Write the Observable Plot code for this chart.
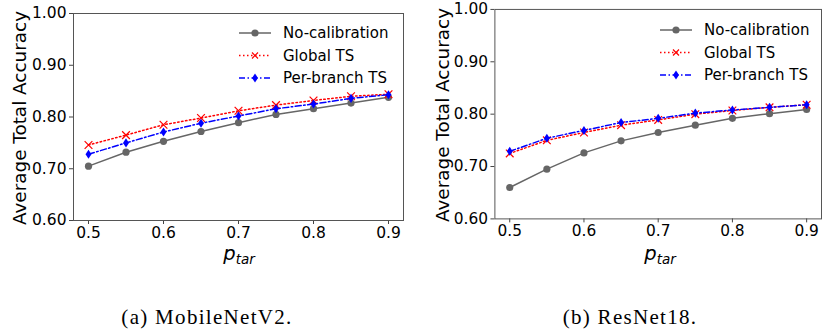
<!DOCTYPE html>
<html>
<head>
<meta charset="utf-8">
<script src="https://cdn.jsdelivr.net/npm/d3@7"></script>
<script src="https://cdn.jsdelivr.net/npm/@observablehq/plot@0.6"></script>
<style>
  body { margin:0; width:822px; height:329px; overflow:hidden; position:relative; background:#fff; font-family:"DejaVu Sans"; }
  .panel { position:absolute; top:0; }
  .panel svg [aria-label$="tick"] path, .panel svg [aria-label$="tick"] { stroke:#444; }
  .ylab { position:absolute; font:18.4px "DejaVu Sans"; color:#000; white-space:nowrap; transform:translate(-50%,-50%) rotate(-90deg); }
  .cap { position:absolute; font:21px "Liberation Serif"; letter-spacing:1.3px; color:#000; white-space:nowrap; transform:translateX(-50%); }
  .legend, .overlay { position:absolute; }
</style>
</head>
<body>
<div id="a" class="panel" style="left:0px"></div>
<div id="b" class="panel" style="left:411px"></div>
<script>
const pTar = [0.5, 0.55, 0.6, 0.65, 0.7, 0.75, 0.8, 0.85, 0.9];
const xTicks = [0.5, 0.6, 0.7, 0.8, 0.9];
const yTicks = [0.6, 0.7, 0.8, 0.9, 1.0];
const seriesNames = ["No-calibration", "Global TS", "Per-branch TS"];
const mobileNoCal     = [0.705, 0.732, 0.753, 0.772, 0.789, 0.805, 0.816, 0.827, 0.838];
const mobileGlobal    = [0.746, 0.765, 0.785, 0.798, 0.812, 0.823, 0.832, 0.840, 0.844];
const mobilePerBranch = [0.728, 0.750, 0.771, 0.788, 0.802, 0.816, 0.825, 0.836, 0.843];
const resNoCal        = [0.660, 0.695, 0.726, 0.749, 0.765, 0.779, 0.792, 0.801, 0.809];
const resGlobal       = [0.725, 0.750, 0.765, 0.779, 0.789, 0.800, 0.807, 0.813, 0.818];
const resPerBranch    = [0.729, 0.754, 0.769, 0.784, 0.792, 0.802, 0.808, 0.813, 0.818];
const captions = ["(a)  MobileNetV2.", "(b)  ResNet18."];
const yLabel = "Average Total Accuracy";
const xLabelMain = "p", xLabelSub = "tar";

const styles = [
  {stroke:"#666666", dash:null, symbol:"circle"},
  {stroke:"#ff0000", dash:"1.5,2.5", symbol:"times"},
  {stroke:"#0000ff", dash:"6,2.5,1.5,2.5", symbol:"thin"}
];
const thinDiamond = {
  draw(ctx, size) {
    const h = Math.sqrt(size / Math.PI);
    ctx.moveTo(0, -h * 1.3); ctx.lineTo(h * 0.85, 0); ctx.lineTo(0, h * 1.3); ctx.lineTo(-h * 0.85, 0); ctx.closePath();
  }
};

function seriesMarks(vals, st) {
  const data = pTar.map((x, i) => ({x, y: vals[i]}));
  const marks = [Plot.line(data, {x:"x", y:"y", stroke:st.stroke, strokeWidth:1.5, strokeDasharray:st.dash || undefined})];
  if (st.symbol === "circle") marks.push(Plot.dot(data, {x:"x", y:"y", r:3.6, fill:st.stroke, stroke:"none"}));
  else if (st.symbol === "times") marks.push(Plot.dot(data, {x:"x", y:"y", r:3.6, symbol:"times", stroke:st.stroke, strokeWidth:1.2}));
  else marks.push(Plot.dot(data, {x:"x", y:"y", r:3.5, symbol:thinDiamond, fill:st.stroke, stroke:"none"}));
  return marks;
}

function panel(el, seriesVals, o) {
  const chart = Plot.plot({
    width:o.width, height:270,
    marginLeft:o.ml, marginRight:o.mr, marginTop:o.mt, marginBottom:50,
    style:{fontFamily:"DejaVu Sans", fontSize:"15.5px", color:"#000", background:"transparent", overflow:"visible"},
    x:{domain:[0.48, 0.92], ticks:xTicks, tickFormat:d => d.toFixed(1), label:null, tickSize:4, tickPadding:2},
    y:{domain:[0.6, 1.0], ticks:yTicks, tickFormat:d => d.toFixed(2), label:null, tickSize:4, tickPadding:3},
    marks:[
      ...seriesVals.flatMap((v, i) => seriesMarks(v, styles[i])),
      Plot.frame({stroke:"#555", strokeWidth:1})
    ]
  });
  document.getElementById(el).appendChild(chart);
}

panel("a", [mobileNoCal, mobileGlobal, mobilePerBranch], {width:411, ml:73, mr:8, mt:13});
panel("b", [resNoCal, resGlobal, resPerBranch], {width:414, ml:84, mr:1, mt:9});

function addDiv(cls, html, left, top) {
  const d = document.createElement("div");
  d.className = cls; d.innerHTML = html;
  d.style.left = left + "px"; d.style.top = top + "px";
  document.body.appendChild(d);
  return d;
}
addDiv("ylab", yLabel, 19, 117.5);
addDiv("ylab", yLabel, 442, 114.5);
addDiv("cap", captions[0], 207, 305);
addDiv("cap", captions[1], 630, 305);

// x-axis labels p_tar
const ov = d3.select(document.body).append("svg").attr("class", "overlay")
  .style("left", "0px").style("top", "230px").attr("width", 822).attr("height", 40);
[239, 660].forEach(cx => {
  const t = ov.append("text").attr("x", cx).attr("y", 29.5).attr("text-anchor", "middle")
    .attr("font-family", "DejaVu Sans").attr("font-style", "italic").attr("font-size", 19.5).attr("fill", "#000");
  t.append("tspan").text(xLabelMain);
  t.append("tspan").attr("font-size", 13.5).attr("dy", 4).text(xLabelSub);
});

function legend(left, top, gap) {
  const svg = d3.select(document.body).append("svg")
    .attr("class", "legend").style("left", left + "px").style("top", top + "px")
    .attr("width", 190).attr("height", 3 * gap + 10);
  seriesNames.forEach((name, i) => {
    const st = styles[i];
    const y = 10 + i * gap;
    svg.append("line").attr("x1", 2).attr("x2", 34).attr("y1", y).attr("y2", y)
      .attr("stroke", st.stroke).attr("stroke-width", 1.5).attr("stroke-dasharray", st.dash);
    if (st.symbol === "circle") svg.append("circle").attr("cx", 18).attr("cy", y).attr("r", 3.6).attr("fill", st.stroke);
    else if (st.symbol === "times") svg.append("path").attr("d", `M15,${y-3}L21,${y+3}M15,${y+3}L21,${y-3}`).attr("stroke", st.stroke).attr("stroke-width", 1.2);
    else svg.append("path").attr("d", `M18,${y-4.5}L21,${y}L18,${y+4.5}L15,${y}Z`).attr("fill", st.stroke);
    svg.append("text").attr("x", 46).attr("y", y).attr("dy", "0.36em")
      .attr("font-family", "DejaVu Sans").attr("font-size", 15).attr("fill", "#000").text(name);
  });
}
legend(237, 23, 22.5);
legend(658, 20, 22.5);
</script>
</body>
</html>
